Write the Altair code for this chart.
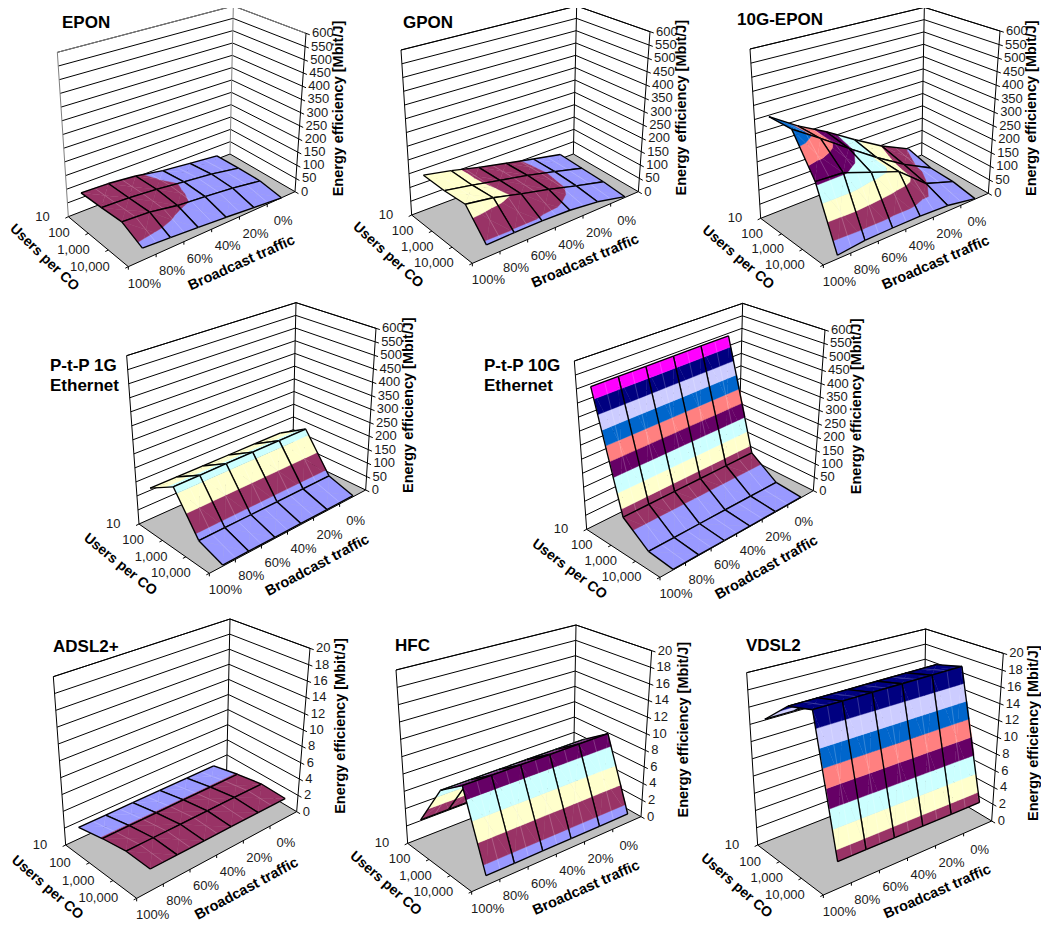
import math
import altair as alt
import pandas as pd

alt.data_transformers.disable_max_rows()

# ---------- data ----------
BROADCAST = ["0%", "20%", "40%", "60%", "80%", "100%"]
USERS = ["10", "100", "1,000", "10,000"]

EPON = [[13, 24, 36, 55, 65, 68],
        [15, 35, 47, 60, 68, 72],
        [15, 32, 44, 54, 72, 78],
        [0, 10, 20, 28, 36, 42]]
GPON = [[18, 40, 62, 84, 108, 127],
        [14, 42, 68, 88, 108, 125],
        [11, 38, 66, 90, 115, 130],
        [3, 28, 40, 44, 44, 42]]
EPON10G = [[45, 97, 160, 225, 280, 345],
           [20, 75, 140, 210, 280, 345],
           [17, 52, 135, 170, 205, 210],
           [2, 20, 24, 24, 22, 12]]
PTP1G = [[108] * 6, [167] * 6, [33] * 6, [4] * 6]
PTP10G = [[490] * 6, [75] * 6, [10] * 6, [2] * 6]
ADSL = [[1.35] * 6, [2.05] * 6, [2.55] * 6, [2.45] * 6]
HFC = [[2.1] * 6, [7.2] * 6, [9.3] * 6, [1.05] * 6]
VDSL = [[14.1] * 6, [17.0] * 6, [17.9] * 6, [2.9] * 6]
ADSL_TICKS = list(range(0, 21, 2))
PON_TICKS = list(range(0, 601, 50))

# ---------- styles ----------
BANDS = ["#9999FF", "#993366", "#FFFFCC", "#CCFFFF", "#660066", "#FF8080",
         "#0066CC", "#CCCCFF", "#000080", "#FF00FF", "#FFFF00", "#00FFFF"]
FLOOR = "#C0C0C0"
FONT = "Liberation Sans"
W, H = 1033, 920

# panel geometry: box corners, read in 3x crops, with crop origin
PANELS = [
    dict(title=["EPON"], tx=62, ty=23, z=EPON, ticks=PON_TICKS, frame="#808080", o=(0, 0),
         L0=(205, 650), F0=(385, 800), R0=(885, 575), B0=(690, 462), L1=(172, 157), B1=(700, 18), R1=(918, 100)),
    dict(title=["GPON"], tx=403, ty=23, z=GPON, ticks=PON_TICKS, frame="#000000", o=(345, 0),
         L0=(200, 645), F0=(382, 790), R0=(880, 575), B0=(685, 462), L1=(168, 150), B1=(695, 18), R1=(915, 95)),
    dict(title=["10G-EPON"], tx=737, ty=20, z=EPON10G, ticks=PON_TICKS, frame="#000000", o=(695, 0),
         L0=(197, 655), F0=(385, 795), R0=(880, 580), B0=(680, 465), L1=(165, 147), B1=(688, 22), R1=(915, 93)),
    dict(title=["P-t-P 1G", "Ethernet"], tx=50, ty=366, z=PTP1G, ticks=PON_TICKS, frame="#000000", o=(70, 300),
         L0=(207, 672), F0=(418, 820), R0=(887, 570), B0=(668, 465), L1=(170, 167), B1=(678, 8), R1=(918, 85)),
    dict(title=["P-t-P 10G", "Ethernet"], tx=484, ty=366, z=PTP10G, ticks=PON_TICKS, frame="#000000", o=(470, 300),
         L0=(350, 688), F0=(570, 832), R0=(1030, 572), B0=(806, 460), L1=(313, 183), B1=(818, 10), R1=(1065, 90)),
    dict(title=["ADSL2+"], tx=53, ty=647, z=ADSL, ticks=ADSL_TICKS, frame="#000000", o=(0, 615),
         L0=(197, 690), F0=(410, 850), R0=(890, 590), B0=(680, 465), L1=(160, 185), B1=(690, 12), R1=(930, 100)),
    dict(title=["HFC"], tx=395, ty=646, z=HFC, ticks=ADSL_TICKS, frame="#000000", o=(345, 615),
         L0=(188, 685), F0=(380, 830), R0=(888, 605), B0=(685, 490), L1=(153, 165), B1=(693, 30), R1=(920, 107)),
    dict(title=["VDSL2"], tx=746, ty=646, z=VDSL, ticks=ADSL_TICKS, frame="#000000", o=(695, 615),
         L0=(188, 690), F0=(385, 840), R0=(890, 618), B0=(685, 495), L1=(155, 173), B1=(692, 42), R1=(925, 115)),
]

paths, texts = [], []
pid = 0


def add_path(pts, fill="transparent", stroke="#000000", sw=1.0):
    global pid
    pid += 1
    for k, (x, y) in enumerate(pts):
        paths.append(dict(x=round(x, 2), y=round(y, 2), k=k, id=pid, fill=fill, stroke=stroke, sw=sw))


def add_text(text, x, y, kind, size, angle=0):
    texts.append(dict(text=text, x=x, y=y, kind=kind, size=size, angle=angle % 360))


def clip(poly, level, keep_above):
    out = []
    n = len(poly)
    for i in range(n):
        a, b = poly[i], poly[(i + 1) % n]
        ia = a[2] >= level if keep_above else a[2] <= level
        ib = b[2] >= level if keep_above else b[2] <= level
        if ia:
            out.append(a)
        if ia != ib:
            f = (level - a[2]) / (b[2] - a[2])
            out.append(tuple(a[m] + f * (b[m] - a[m]) for m in range(3)))
    return out


def draw_panel(p):
    ox, oy = p["o"]
    c = {k: (ox + p[k][0] / 3, oy + p[k][1] / 3) for k in ("L0", "F0", "R0", "B0", "L1", "B1", "R1")}
    c["F1"] = tuple(c["F0"][m] + (c["L1"][m] - c["L0"][m]) + (c["R1"][m] - c["R0"][m]) - (c["B1"][m] - c["B0"][m])
                    for m in range(2))
    zmax = p["ticks"][-1]
    step = p["ticks"][1] - p["ticks"][0]

    def proj(s, t, z=0.0):
        zf = z / zmax
        out = []
        for m in range(2):
            lo = (1 - t) * ((1 - s) * c["L0"][m] + s * c["B0"][m]) + t * ((1 - s) * c["F0"][m] + s * c["R0"][m])
            hi = (1 - t) * ((1 - s) * c["L1"][m] + s * c["B1"][m]) + t * ((1 - s) * c["F1"][m] + s * c["R1"][m])
            out.append((1 - zf) * lo + zf * hi)
        return tuple(out)

    # floor
    add_path([proj(0, 0), proj(0, 1), proj(1, 1), proj(1, 0), proj(0, 0)], fill=FLOOR, stroke=FLOOR, sw=0.5)
    # walls
    for v in p["ticks"]:
        add_path([proj(0, 0, v), proj(1, 0, v), proj(1, 1, v)], stroke="#000000", sw=1.0)
        a, b = proj(1, 0, v), proj(1, 1, v)
        d = math.hypot(b[0] - a[0], b[1] - a[1])
        add_path([b, (b[0] + 4 * (b[0] - a[0]) / d, b[1] + 4 * (b[1] - a[1]) / d)], sw=1.0)
        add_text(f"{v}", b[0] + 6, b[1], "tick_left", 13)
    add_path([proj(0, 0, zmax), proj(1, 0, zmax), proj(1, 1, zmax)], stroke=p["frame"], sw=1)
    add_path([proj(0, 0), proj(0, 0, zmax)], stroke=p["frame"], sw=1)
    add_path([proj(1, 0), proj(1, 0, zmax)], stroke=p["frame"], sw=1)
    add_path([proj(1, 1), proj(1, 1, zmax)], sw=1)
    # floor front edges with ticks and labels
    add_path([proj(0, 0), proj(0, 1), proj(1, 1)], sw=1)
    for j, lab in enumerate(USERS):
        a = proj(0, j / 3)
        add_path([a, (a[0] - 3, a[1] + 1.5)], sw=1.0)
        add_text(lab, a[0] - 18.5, a[1], "tick_right", 13)
    for i, lab in enumerate(reversed(BROADCAST)):
        a = proj(i / 6, 1)
        add_path([a, (a[0], a[1] + 3)], sw=1.0)
        add_text(lab, a[0] + 16, a[1] + 17, "tick_center", 13)
    # axis titles
    F0, R0, L0 = c["F0"], c["R0"], c["L0"]
    ang_b = math.degrees(math.atan2(R0[1] - F0[1], R0[0] - F0[0]))
    ang_u = math.degrees(math.atan2(F0[1] - L0[1], F0[0] - L0[0])) + 4
    add_text("Broadcast traffic", (F0[0] + R0[0]) / 2 + 30, (F0[1] + R0[1]) / 2 + 34, "bold_center", 14.5, ang_b)
    add_text("Users per CO", (L0[0] + F0[0]) / 2 - 54, (L0[1] + F0[1]) / 2 + 16, "bold_center", 14, ang_u)
    a, b = proj(1, 1, 0), proj(1, 1, zmax)
    add_text("Energy efficiency [Mbit/J]", min((a[0] + b[0]) / 2 + 38, 1034), (a[1] + b[1]) / 2 - 4,
             "bold_center", 14.5, 270)
    # title
    for n, line in enumerate(p["title"]):
        add_text(line, p["tx"], p["ty"] + 20 * n, "bold_left", 17)

    # surface: back to front, rows 10 -> 10,000 and columns 0% -> 100%
    z = p["z"]
    S = [(5 - i + 0.5) / 6 + 0.002 for i in range(6)]
    T = [j / 3 for j in range(4)]
    for j in range(3):
        for i in range(5):
            corners = [(S[i], T[j], z[j][i]), (S[i + 1], T[j], z[j][i + 1]),
                       (S[i + 1], T[j + 1], z[j + 1][i + 1]), (S[i], T[j + 1], z[j + 1][i])]
            mid = tuple(sum(q[m] for q in corners) / 4 for m in range(3))
            tris = [(corners[n], corners[(n + 1) % 4], mid) for n in range(4)]
            # far triangles first: back edge, then 0% side, then 100% side, then near edge
            for tri in (tris[0], tris[1], tris[3], tris[2]):
                for b_i, col in enumerate(BANDS):
                    poly = clip(clip(list(tri), b_i * step, True), (b_i + 1) * step, False)
                    if len(poly) >= 3:
                        xy = [proj(*q) for q in poly]
                        add_path(xy + [xy[0]], fill=col, stroke=col, sw=0.4)
            # faint floor-tick line showing through the cell, midway between the columns
            sm = (S[i] + S[i + 1]) / 2
            add_path([proj(sm, T[j], (z[j][i] + z[j][i + 1]) / 2),
                      proj(sm, T[j + 1], (z[j + 1][i] + z[j + 1][i + 1]) / 2)],
                     stroke="rgba(255,255,255,0.35)", sw=0.6)
            for n in range(4):
                a, b = corners[n], corners[(n + 1) % 4]
                add_path([proj(*a), proj(*b)], sw=1.35)


for panel in PANELS:
    draw_panel(panel)

df_paths = pd.DataFrame(paths)
df_text = pd.DataFrame(texts)

xs = alt.Scale(domain=[8, 8 + W], zero=False, nice=False)
ys = alt.Scale(domain=[8 + H, 8], zero=False, nice=False)

lines = alt.Chart(df_paths).mark_line(strokeCap="butt", strokeJoin="round", clip=False).encode(
    x=alt.X("x:Q", scale=xs, axis=None),
    y=alt.Y("y:Q", scale=ys, axis=None),
    detail="id:N",
    order="k:Q",
    fill=alt.Fill("fill:N", scale=None),
    stroke=alt.Stroke("stroke:N", scale=None),
    strokeWidth=alt.StrokeWidth("sw:Q", scale=None),
)


def text_layer(kind, align, bold, color):
    return alt.Chart(df_text[df_text.kind == kind]).mark_text(
        align=align, baseline="middle", font=FONT, fontWeight="bold" if bold else "normal", color=color
    ).encode(
        x=alt.X("x:Q", scale=xs, axis=None),
        y=alt.Y("y:Q", scale=ys, axis=None),
        text="text:N",
        size=alt.Size("size:Q", scale=None),
        angle=alt.Angle("angle:Q", scale=None),
    )


chart = alt.layer(
    lines,
    text_layer("tick_left", "left", False, "#1a1a1a"),
    text_layer("tick_right", "right", False, "#1a1a1a"),
    text_layer("tick_center", "center", False, "#1a1a1a"),
    text_layer("bold_center", "center", True, "#000000"),
    text_layer("bold_left", "left", True, "#000000"),
).properties(
    width=W, height=H, padding=0, background="white",
    autosize=alt.AutoSizeParams(type="none"),
).configure_view(strokeWidth=0)

chart.save("out.html", embed_options={"renderer": "svg", "actions": False})
